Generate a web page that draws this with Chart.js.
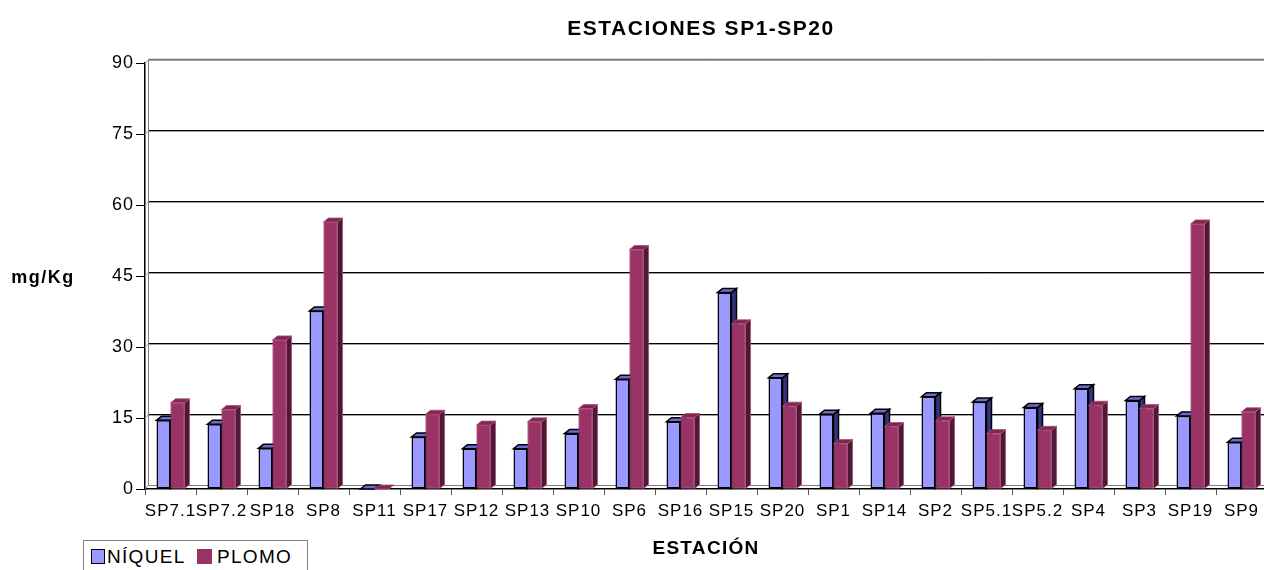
<!DOCTYPE html>
<html>
<head>
<meta charset="utf-8">
<script src="https://cdn.jsdelivr.net/npm/chart.js@4.4.1/dist/chart.umd.min.js"></script>
<style>
  html, body { margin: 0; padding: 0; background: #fff; overflow: hidden; width: 1264px; height: 570px; }
  #wrap { position: relative; width: 1264px; height: 570px; overflow: hidden; }
  canvas { position: absolute; left: 0; top: 0; }
  #legend { position: absolute; left: 83px; top: 540px; width: 223px; height: 40px; border: 1px solid #808080; background: #fff;
            font-family: "Liberation Sans", Arial, sans-serif; font-size: 19px; letter-spacing: 1.3px; color: #000; }
  .sw { position: absolute; top: 8px; width: 12px; height: 13px; }
  .lt { position: absolute; top: 5px; line-height: 22px; }
</style>
</head>
<body>
<div id="wrap">
  <canvas id="c" width="1267" height="570"></canvas>
  <div id="legend">
    <div class="sw" style="left:7px;background:#9999FF;border:1px solid #000;"></div><div class="lt" style="left:23px;">NÍQUEL</div>
    <div class="sw" style="left:113px;width:15px;height:15px;background:#993366;"></div><div class="lt" style="left:133px;">PLOMO</div>
  </div>
</div>
<script>
const categories = ["SP7.1","SP7.2","SP18","SP8","SP11","SP17","SP12","SP13","SP10","SP6","SP16","SP15","SP20","SP1","SP14","SP2","SP5.1","SP5.2","SP4","SP3","SP19","SP9"];
const niquel = [14.5,13.7,8.6,37.6,0,11.0,8.5,8.5,11.7,23.2,14.2,41.5,23.5,15.8,16.0,19.5,18.4,17.2,21.2,18.7,15.4,9.9];
const plomo  = [18.2,16.8,31.5,56.4,0,15.8,13.5,14.2,17.0,50.6,15.1,34.9,17.5,9.6,13.2,14.4,11.7,12.4,17.7,17.0,56.0,16.3];
const yTicks = [0,15,30,45,60,75,90];
const seriesNames = ["NÍQUEL","PLOMO"];
const chartTitle = "ESTACIONES SP1-SP20";
const yTitle = "mg/Kg";
const xTitle = "ESTACIÓN";

const FONT = '"Liberation Sans", Arial, sans-serif';
const DX = 5, DY = 4;

const faces = [
  { cap: '#6b6bd0', side: '#333380', stroke: '#000' },
  { cap: '#7a2950', side: '#4c1a33', stroke: null }
];

const spacingPlugin = {
  id: 'spacing',
  afterInit(chart) { chart.ctx.letterSpacing = '1px'; },
  beforeUpdate(chart) { chart.ctx.letterSpacing = '1px'; },
  beforeDraw(chart) { chart.ctx.letterSpacing = '1px'; }
};

const wallPlugin = {
  id: 'wall',
  beforeDatasetsDraw(chart) {
    const ctx = chart.ctx, ys = chart.scales.y, a = chart.chartArea;
    ctx.save();
    ctx.strokeStyle = '#808080'; ctx.lineWidth = 1;
    ctx.beginPath(); ctx.moveTo(a.left + DX - 1.5, ys.getPixelForValue(yTicks[yTicks.length-1]) - DY); ctx.lineTo(a.left + DX - 1.5, a.bottom - DY); ctx.stroke();
    ctx.beginPath(); ctx.moveTo(a.left + DX - 1.5, a.bottom - DY + 0.5); ctx.lineTo(a.right, a.bottom - DY + 0.5); ctx.stroke();
    ctx.beginPath(); ctx.moveTo(a.left, a.bottom); ctx.lineTo(a.left + DX - 1.5, a.bottom - DY); ctx.stroke();
    yTicks.forEach((v, i) => {
      if (v === 0) return;
      const py = Math.round(ys.getPixelForValue(v) - DY) + 0.5;
      const top = i === yTicks.length - 1;
      ctx.strokeStyle = top ? '#7a7a7a' : '#000';
      ctx.lineWidth = top ? 1.5 : 1.2;
      ctx.beginPath(); ctx.moveTo(a.left + DX - 1.5, py); ctx.lineTo(a.right, py); ctx.stroke();
      ctx.strokeStyle = '#a0a0a0'; ctx.lineWidth = 1;
      ctx.beginPath(); ctx.moveTo(a.left + DX - 1.5, py + 1); ctx.lineTo(a.right, py + 1); ctx.stroke();
      ctx.beginPath(); ctx.moveTo(a.left, py + DY); ctx.lineTo(a.left + DX - 1.5, py); ctx.stroke();
    });
    ctx.restore();
  }
};

function draw3d(ctx, meta, f) {
  meta.data.forEach(el => {
    const p = el.getProps(['x','y','base','width'], true);
    const x0 = p.x - p.width/2, x1 = p.x + p.width/2, y = Math.min(p.y, p.base), b = p.base;
    ctx.beginPath();
    ctx.moveTo(x1, y); ctx.lineTo(x1 + DX, y - DY); ctx.lineTo(x1 + DX, b - DY); ctx.lineTo(x1, b); ctx.closePath();
    ctx.fillStyle = f.side; ctx.fill();
    if (f.stroke) { ctx.strokeStyle = f.stroke; ctx.lineWidth = 1.5; ctx.stroke(); }
    else { ctx.strokeStyle = '#b04a7c'; ctx.lineWidth = 0.8; ctx.stroke(); }
    ctx.beginPath();
    ctx.moveTo(x0, y); ctx.lineTo(x1, y); ctx.lineTo(x1 + DX, y - DY); ctx.lineTo(x0 + DX, y - DY); ctx.closePath();
    ctx.fillStyle = f.cap; ctx.fill();
    if (f.stroke) { ctx.strokeStyle = f.stroke; ctx.lineWidth = 1.5; ctx.stroke(); }
    else { ctx.strokeStyle = '#b04a7c'; ctx.lineWidth = 0.8; ctx.stroke(); }
  });
}

const bar3dPlugin = {
  id: 'bar3d',
  afterDatasetsDraw(chart) {
    const ctx = chart.ctx;
    ctx.save();
    ctx.letterSpacing = '0px';
    // blue (front-left) series 3D faces, then the red series redrawn in front of them
    draw3d(ctx, chart.getDatasetMeta(0), faces[0]);
    const redMeta = chart.getDatasetMeta(1);
    redMeta.data.forEach(el => el.draw(ctx));
    draw3d(ctx, redMeta, faces[1]);
    ctx.restore();
  }
};

const textPlugin = {
  id: 'texts',
  afterDraw(chart) {
    const ctx = chart.ctx;
    ctx.save();
    ctx.fillStyle = '#000';
    ctx.textAlign = 'center';
    ctx.textBaseline = 'alphabetic';
    ctx.letterSpacing = '1.5px';
    ctx.font = 'bold 21px ' + FONT;
    ctx.fillText(chartTitle, 701, 35);
    ctx.font = 'bold 18px ' + FONT;
    ctx.fillText(yTitle, 43, 283);
    ctx.letterSpacing = '1.3px';
    ctx.font = 'bold 19px ' + FONT;
    ctx.fillText(xTitle, 706, 554);
    ctx.restore();
  }
};

new Chart(document.getElementById('c'), {
  type: 'bar',
  data: {
    labels: categories,
    datasets: [
      { label: seriesNames[0], data: niquel, backgroundColor: '#9999FF', borderColor: '#000', borderWidth: 1.5, borderSkipped: false },
      { label: seriesNames[1], data: plomo, backgroundColor: '#993366', borderColor: '#b04a7c', borderWidth: 1, borderSkipped: false }
    ]
  },
  options: {
    responsive: false,
    animation: false,
    devicePixelRatio: 1,
    layout: { padding: { top: 63, left: 0, right: 0, bottom: 0 } },
    datasets: { bar: { categoryPercentage: 0.55, barPercentage: 1.0 } },
    plugins: { legend: { display: false }, title: { display: false }, tooltip: { enabled: false } },
    scales: {
      x: {
        type: 'category',
        offset: true,
        grid: { offset: true, drawOnChartArea: false, drawTicks: true, tickLength: 6, color: '#555' },
        border: { display: true, color: '#000', width: 1.5 },
        ticks: { autoSkip: false, maxRotation: 0, minRotation: 0, padding: 6, color: '#000', font: { family: FONT, size: 17 } },
        afterFit(s) { s.height = 81; }
      },
      y: {
        min: 0, max: 90,
        afterBuildTicks(s) { s.ticks = yTicks.map(v => ({ value: v })); },
        grid: { drawOnChartArea: false, drawTicks: true, tickLength: 9, color: '#000' },
        border: { display: true, color: '#000', width: 1.5 },
        ticks: { padding: 2, color: '#000', font: { family: FONT, size: 18 } },
        afterFit(s) { s.width = 145; }
      }
    }
  },
  plugins: [spacingPlugin, wallPlugin, bar3dPlugin, textPlugin]
});
</script>
</body>
</html>
